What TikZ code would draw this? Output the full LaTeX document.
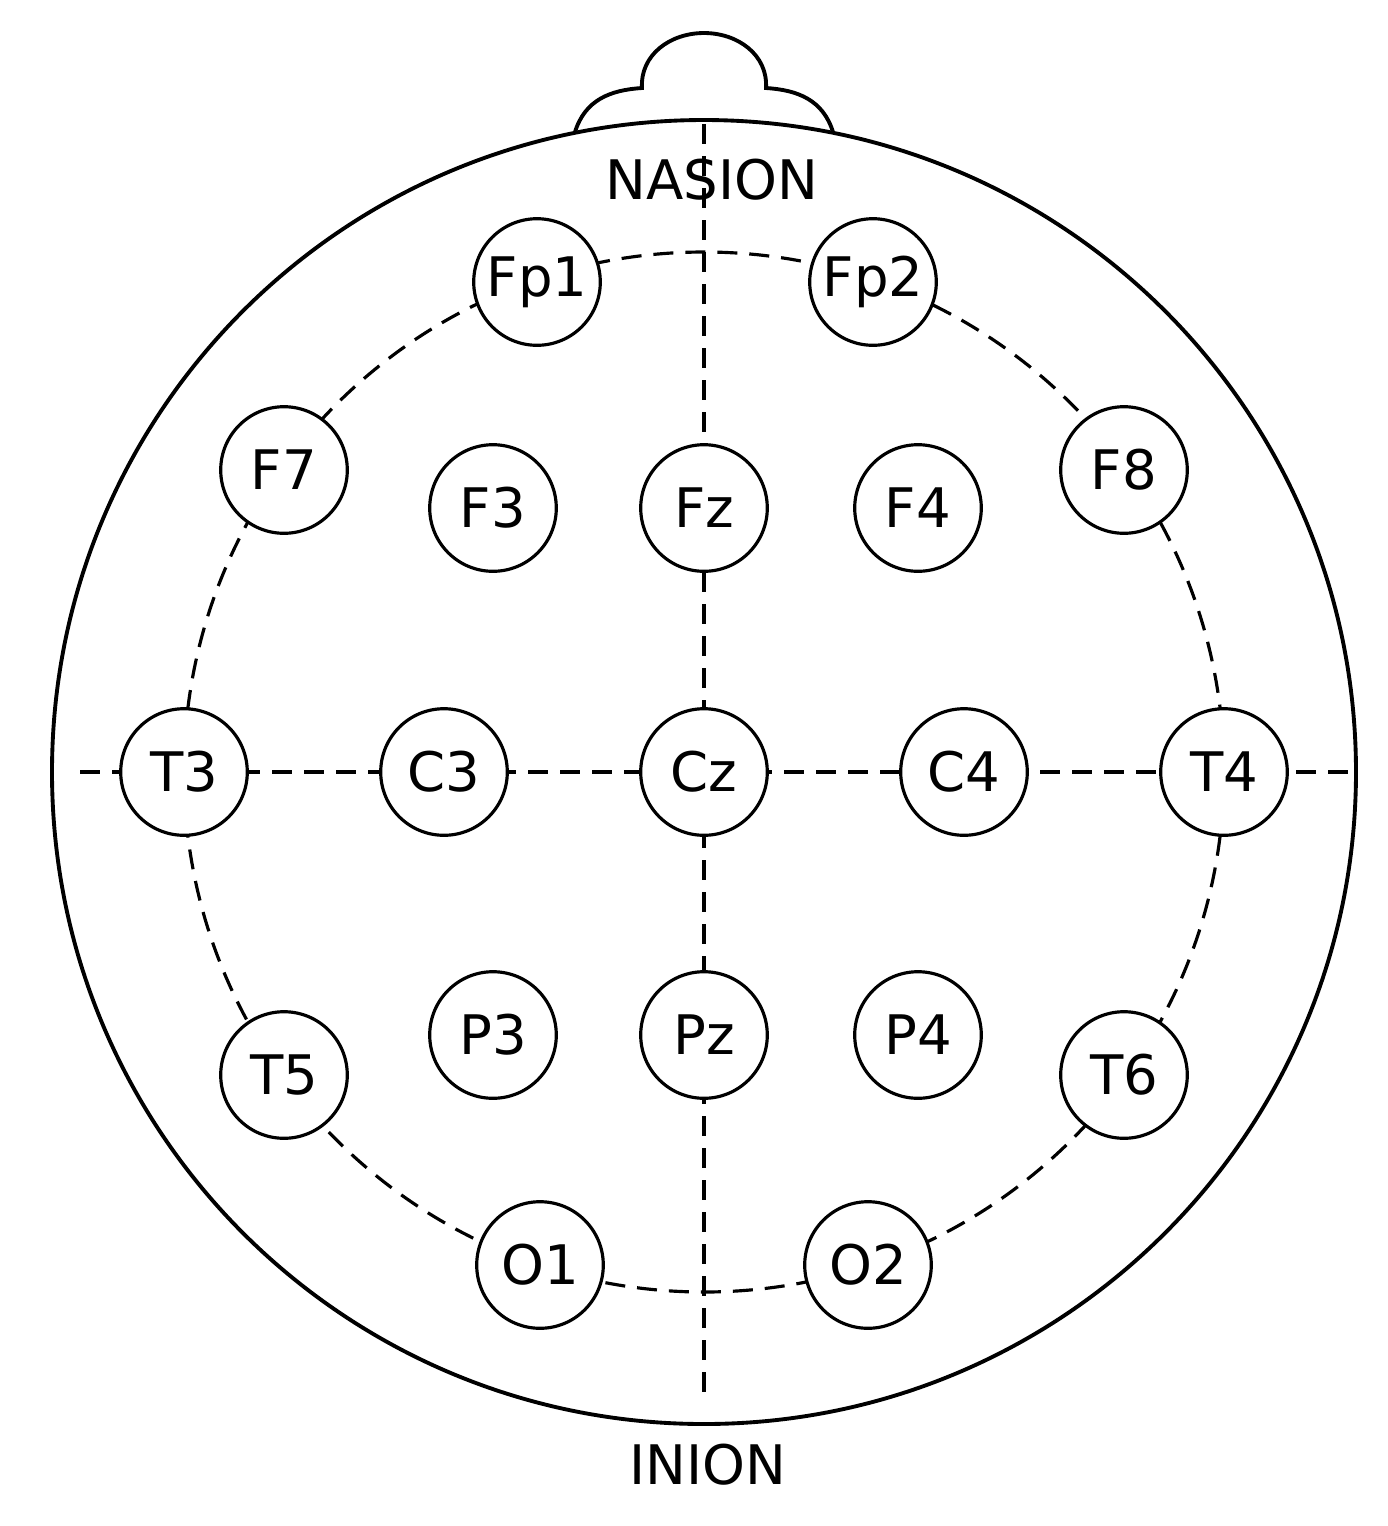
\documentclass[tikz,border=0pt]{standalone}
\usepackage{fontspec}
\setmainfont{DejaVu Sans}
\begin{document}
\begin{tikzpicture}[x=0.01cm,y=-0.01cm,
  el/.style={circle,draw,line width=0.9pt,fill=white,minimum size=36pt,inner sep=0pt,font=\fontsize{15.5}{18}\selectfont},
  lbl/.style={font=\fontsize{15.5}{18}\selectfont},
  dsh/.style={line width=0.9pt,dash pattern=on 5.7pt off 3.4pt}]
\useasboundingbox (0,0) rectangle (1388,1526);
% nose
\draw[line width=1.1pt] (575,132) .. controls (585,100) and (610,90) .. (642,88)
  .. controls (640,55) and (670,33) .. (704,33) .. controls (738,33) and (768,55) .. (766,88)
  .. controls (798,90) and (823,100) .. (833,132);
\draw[line width=1.1pt,fill=white] (704,772) circle [radius=652];
\draw[dsh] (704,772) circle [radius=520];
\draw[dsh] (80,772) -- (1356,772);
\draw[dsh] (704,124) -- (704,1400);
\node[lbl,fill=none] (nas) at (712,180) {NASION};
\node[lbl] (ini) at (708,1465) {INION};
\foreach \n/\x/\y in {Fp1/537/282,Fp2/873/282,F7/284/470,F3/493/508,Fz/704/508,F4/918/508,F8/1124/470,
  T3/184/772,C3/444/772,Cz/704/772,C4/964/772,T4/1224/772,T5/284/1075,P3/493/1035,Pz/704/1035,P4/918/1035,
  T6/1124/1075,O1/540/1265,O2/868/1265}
  \node[el] (\n) at (\x,\y) {\n};
\end{tikzpicture}
\end{document}
